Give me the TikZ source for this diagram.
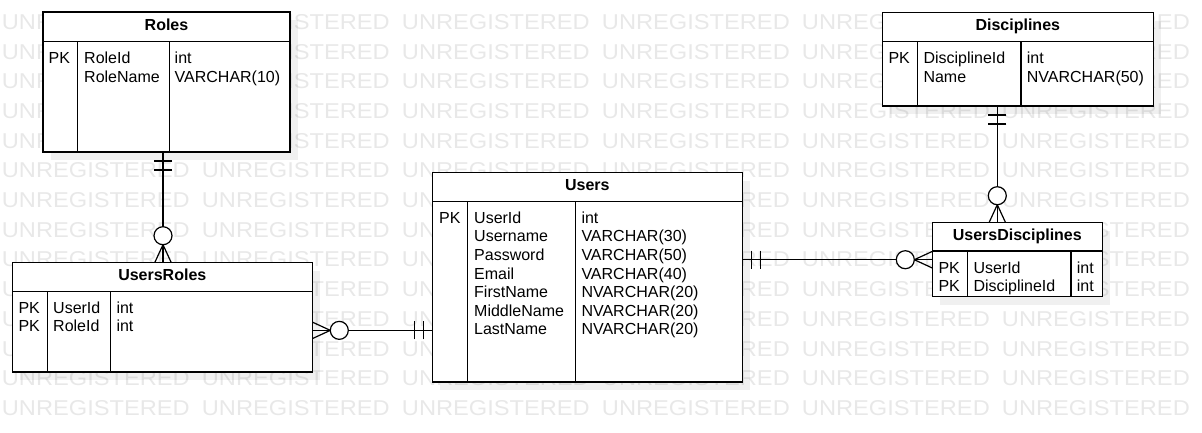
\documentclass[tikz,border=0pt]{standalone}
\usepackage{fontspec}
\setmainfont{Liberation Sans}
\usetikzlibrary{shadows}
\definecolor{wmgray}{RGB}{232,232,232}

\tikzset{
  table node/.style={draw, fill=white, line width=1.2pt, inner sep=0pt, outer sep=0pt,
    general shadow={fill=black, opacity=0.06, shadow xshift=8pt, shadow yshift=-8pt}},
  field/.style={anchor=base west, inner sep=0pt, font=\fontsize{16}{18.6}\selectfont},
  title/.style={anchor=base, inner sep=0pt, font=\fontsize{16}{18.6}\selectfont\bfseries},
  wmark/.style={anchor=base west, inner sep=0pt, text=wmgray, xscale=1.1, font=\fontsize{21.5}{24}\selectfont},
  conn/.style={line width=1.2pt},
  one only/.pic={\draw[conn] (9,-9) -- (9,9) (18,-9) -- (18,9);},
  zero many/.pic={\draw[conn] (0,-8.3) -- (18,0) -- (0,8.3);
    \draw[conn, fill=white] (27,0) circle[radius=9pt];}
}

\begin{document}
\begin{tikzpicture}[x=1pt,y=-1pt]
  \useasboundingbox (0,0) rectangle (1202,432);

  % watermark
  \foreach \r in {0,...,13}
    \foreach \c in {0,...,5}
      \node[wmark] (wm-\r-\c) at (1.7+200*\c, 29.3+29.7*\r) {UNREGISTERED};

  % Roles
  \node[table node, minimum width=247, minimum height=140] (roles) at (166.5,82) {};
  \draw[conn] (43,41.5) -- (290,41.5) (77.3,41.5) -- (77.3,152) (169.3,41.5) -- (169.3,152);
  \node[title] (roles-title) at (166.5,30.7) {Roles};
  \node[field] (roles-pk) at (48.5,63.5) {PK};
  \foreach \fname/\ftype [count=\i] in {RoleId/int, RoleName/VARCHAR(10)} {
    \node[field] (roles-f\i) at (84, 45+18.5*\i) {\fname};
    \node[field] (roles-y\i) at (174.5, 45+18.5*\i) {\ftype};
  }

  % UsersRoles
  \node[table node, minimum width=300, minimum height=109.3] (usersroles) at (162.3,317.35) {};
  \draw[conn] (12.3,291.7) -- (312.3,291.7) (47.7,291.7) -- (47.7,372) (110.7,291.7) -- (110.7,372);
  \node[title] (ur-title) at (162.3,280.7) {UsersRoles};
  \foreach \fname/\ftype [count=\i] in {UserId/int, RoleId/int} {
    \node[field] (ur-pk\i) at (18.3, 294.8+18.5*\i) {PK};
    \node[field] (ur-f\i) at (53, 294.8+18.5*\i) {\fname};
    \node[field] (ur-y\i) at (116.3, 294.8+18.5*\i) {\ftype};
  }

  % Users
  \node[table node, minimum width=310, minimum height=209.3] (users) at (587.3,277.35) {};
  \draw[conn] (432.3,201.5) -- (742.3,201.5) (467.7,201.5) -- (467.7,382) (575.7,201.5) -- (575.7,382);
  \node[title] (users-title) at (587.3,190.7) {Users};
  \node[field] (users-pk) at (439,223.3) {PK};
  \foreach \fname/\ftype [count=\i] in {UserId/int, Username/VARCHAR(30), Password/VARCHAR(50),
      Email/VARCHAR(40), FirstName/NVARCHAR(20), MiddleName/NVARCHAR(20), LastName/NVARCHAR(20)} {
    \node[field] (users-f\i) at (474, 204.7+18.6*\i) {\fname};
    \node[field] (users-y\i) at (581.3, 204.7+18.6*\i) {\ftype};
  }

  % Disciplines
  \node[table node, minimum width=271, minimum height=93.3] (disciplines) at (1017.8,59.35) {};
  \draw[conn] (882.3,41.7) -- (1153.3,41.7) (917.7,41.7) -- (917.7,106) (1021,41.7) -- (1021,106);
  \node[title] (disc-title) at (1017.8,30.7) {Disciplines};
  \node[field] (disc-pk) at (888.3,63.5) {PK};
  \foreach \fname/\ftype [count=\i] in {DisciplineId/int, Name/NVARCHAR(50)} {
    \node[field] (disc-f\i) at (923.3, 45+18.5*\i) {\fname};
    \node[field] (disc-y\i) at (1026.7, 45+18.5*\i) {\ftype};
  }

  % UsersDisciplines
  \node[table node, minimum width=170, minimum height=74] (usersdisc) at (1017.3,259.7) {};
  \draw[conn] (932.3,251) -- (1102.3,251) (967.7,251) -- (967.7,296.7) (1071,251) -- (1071,296.7);
  \node[title] (ud-title) at (1017.3,240.7) {UsersDisciplines};
  \foreach \fname/\ftype [count=\i] in {UserId/int, DisciplineId/int} {
    \node[field] (ud-pk\i) at (938.3, 254.8+18.5*\i) {PK};
    \node[field] (ud-f\i) at (973.3, 254.8+18.5*\i) {\fname};
    \node[field] (ud-y\i) at (1076.7, 254.8+18.5*\i) {\ftype};
  }

  % relations
  \coordinate (r1) at ([xshift=-3.5pt]roles.south);
  \coordinate (r2) at (r1 |- usersroles.north);
  \draw[conn] (r1) -- (r2);
  \pic[rotate=-90] at (r1) {one only};
  \pic[rotate=90] at (r2) {zero many};

  \coordinate (u1) at ([yshift=-13pt]usersroles.east);
  \coordinate (u2) at (u1 -| users.west);
  \draw[conn] (u1) -- (u2);
  \pic at (u1) {zero many};
  \pic[rotate=180] at (u2) {one only};

  \coordinate (s1) at (usersdisc.west -| users.east);
  \draw[conn] (s1) -- (usersdisc.west);
  \pic at (s1) {one only};
  \pic[rotate=180] at (usersdisc.west) {zero many};

  \coordinate (d1) at ([xshift=-20pt]usersdisc.north);
  \coordinate (d2) at (d1 |- disciplines.south);
  \draw[conn] (d2) -- (d1);
  \pic[rotate=-90] at (d2) {one only};
  \pic[rotate=90] at (d1) {zero many};
\end{tikzpicture}
\end{document}
